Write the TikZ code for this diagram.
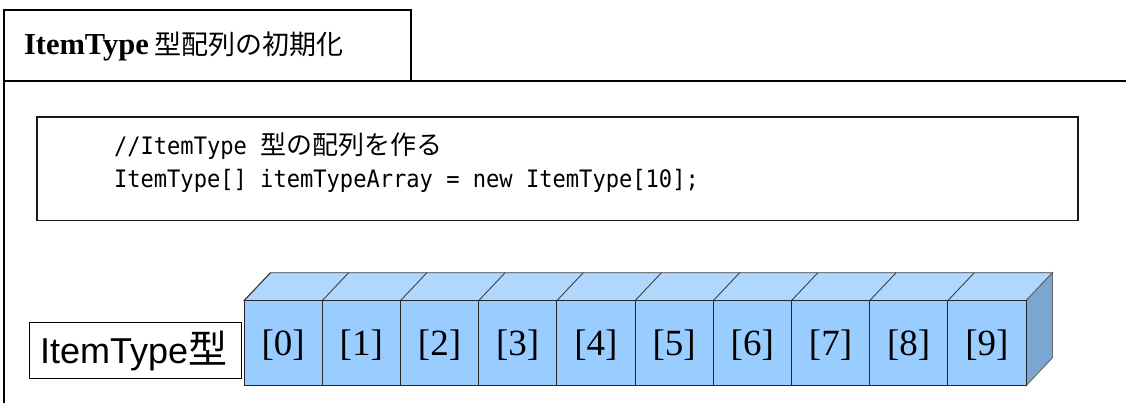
\documentclass[tikz,border=0pt]{standalone}
\usepackage{fontspec}
\setmainfont{Liberation Serif}
\newfontfamily\jp{Noto Sans CJK JP}
\newfontfamily\codef[FakeStretch=0.92]{DejaVu Sans Mono}
\newfontfamily\lsans{Liberation Sans}
\definecolor{front}{HTML}{99CCFF}
\definecolor{topc}{HTML}{B0D8FF}
\definecolor{sidec}{HTML}{7BA6D1}
\tikzset{
  frame/.style={line width=1.7pt, draw=black},
  codebox/.style={line width=1.6pt, draw=black!90},
  facefront/.style={fill=front, draw=black!85, line width=0.9pt},
  facetop/.style={fill=topc, draw=black!75, line width=0.9pt},
  faceside/.style={fill=sidec, draw=black!60, line width=0.9pt},
  txt/.style={inner sep=0pt, outer sep=0pt, anchor=base west},
  cell/.style={inner sep=0pt, anchor=base, font=\fontsize{37}{40}\selectfont}
}
\begin{document}
\begin{tikzpicture}[x=1pt,y=-1pt]
\useasboundingbox (0,0) rectangle (1126,403);
% frame
\draw[frame] (4,81) rectangle (411,10);
\draw[frame] (4,81) -- (1126,81);
\draw[frame] (4,81) -- (4,403);
\node[txt] (title) at (24,55) {\fontsize{30.5}{32}\selectfont\textbf{ItemType}\hspace{6pt}{\jp\fontsize{27}{30}\selectfont 型配列の初期化}};
% code box
\draw[codebox] (37,117) rectangle (1078,220.5);
\node[txt] (code1) at (114,154.5) {\fontsize{24}{26}\codef //ItemType {\jp\fontsize{26}{28}\selectfont 型の配列を作る}};
\node[txt] (code2) at (114,188) {\fontsize{24}{26}\codef ItemType[] itemTypeArray = new ItemType[10];};
% label
\node[draw=black, line width=0.9pt, minimum width=212pt, minimum height=56pt, inner sep=0pt] (lbl) at (135.2,350.8) {};
\node[txt] (lbltxt) at (40,363) {\fontsize{36}{38}\lsans ItemType{\jp\fontsize{39}{40}\selectfont 型}};
% cubes
\def\cw{78.2}
\def\dx{26.5}
\def\dy{28}
\path[facetop] (244,300.7) -- (1026,300.7) -- ++(\dx,-\dy) -- (270.5,272.7) -- cycle;
\path[faceside] (1026,300.7) -- ++(\dx,-\dy) -- (1052.5,357.7) -- (1026,385.7) -- cycle;
\foreach \i in {0,...,9} {
  \pgfmathsetmacro{\xa}{244+\i*\cw}
  \draw[facetop, fill=none] (\xa,300.7) -- ++(\dx,-\dy);
  \draw[facefront] (\xa,300.7) rectangle ++(\cw,85);
  \node[cell] (c\i) at (\xa+\cw/2,355.5) {[\i]};
}
\end{tikzpicture}
\end{document}
